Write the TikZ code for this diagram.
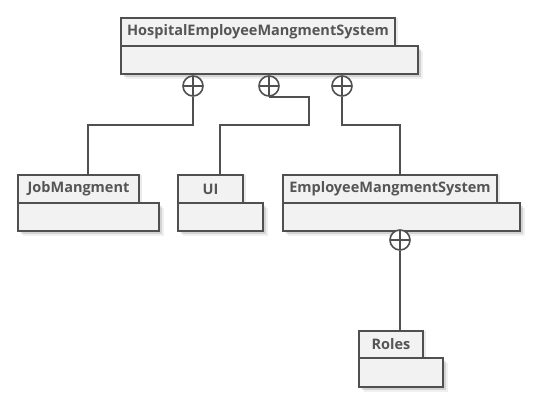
\documentclass[tikz,border=0pt]{standalone}
\usepackage{fontspec}
\setmainfont{Open Sans}
\usetikzlibrary{shadows}
\definecolor{pkgfill}{RGB}{242,242,242}
\definecolor{pkgline}{RGB}{80,80,80}
\definecolor{pkgtext}{RGB}{85,85,85}
\tikzset{
  pkgshadow/.style={drop shadow={shadow xshift=3pt, shadow yshift=-3pt, fill=black, opacity=0.12},
                    drop shadow={shadow xshift=5pt, shadow yshift=-5pt, fill=black, opacity=0.06}},
  tabshadow/.style={drop shadow={shadow xshift=3pt, shadow yshift=0pt, fill=black, opacity=0.08}},
  pkgtab/.style={draw=pkgline, fill=pkgfill, line width=2pt, anchor=north west, inner sep=0pt,
    font=\fontsize{14.5}{16}\selectfont\bfseries, text=pkgtext, tabshadow},
  pkgbody/.style={draw=pkgline, fill=pkgfill, line width=2pt, anchor=north west, inner sep=0pt, pkgshadow},
  nest/.style={circle, draw=pkgline, fill=white, line width=1.6pt, minimum size=20pt, inner sep=0pt,
    path picture={\draw[pkgline, line width=1.6pt] (path picture bounding box.north) -- (path picture bounding box.south)
      (path picture bounding box.west) -- (path picture bounding box.east);}},
  conn/.style={draw=pkgline, line width=2pt}
}
\begin{document}
\begin{tikzpicture}[x=1pt,y=-1pt]
\useasboundingbox (0,0) rectangle (539,406);
% main package
\node[pkgbody, minimum width=297, minimum height=28] (hems) at (120,45) {};
\node[pkgtab, minimum width=274, minimum height=28] (hemsT) at (120,17) {HospitalEmployeeMangmentSystem};
% JobMangment
\node[pkgbody, minimum width=141, minimum height=28] (job) at (17,202) {};
\node[pkgtab, minimum width=121, minimum height=28] (jobT) at (17,174) {JobMangment};
% UI
\node[pkgbody, minimum width=85, minimum height=28] (ui) at (177,202) {};
\node[pkgtab, minimum width=65, minimum height=28] (uiT) at (177,174) {UI};
% EmployeeMangmentSystem
\node[pkgbody, minimum width=237, minimum height=28] (ems) at (282,202) {};
\node[pkgtab, minimum width=214, minimum height=28] (emsT) at (282,174) {EmployeeMangmentSystem};
% Roles
\node[pkgbody, minimum width=84, minimum height=29] (roles) at (358,357) {};
\node[pkgtab, minimum width=64, minimum height=27] (rolesT) at (358,330) {Roles};
% nesting circles
\node[nest] (c1) at (193,86) {};
\node[nest] (c2) at (269,86) {};
\node[nest] (c3) at (342,86) {};
\node[nest] (c4) at (400,240) {};
% connectors
\draw[conn] (c1.south) -- ++(0,28) -| ([xshift=71pt]jobT.north west);
\draw[conn] (c2.south) -| ++(40,28) -| ([xshift=43pt]uiT.north west);
\draw[conn] (c3.south) -- ++(0,28) -| ([xshift=118pt]emsT.north west);
\draw[conn] (c4.south) -- ([xshift=42pt]rolesT.north west);
\end{tikzpicture}
\end{document}
